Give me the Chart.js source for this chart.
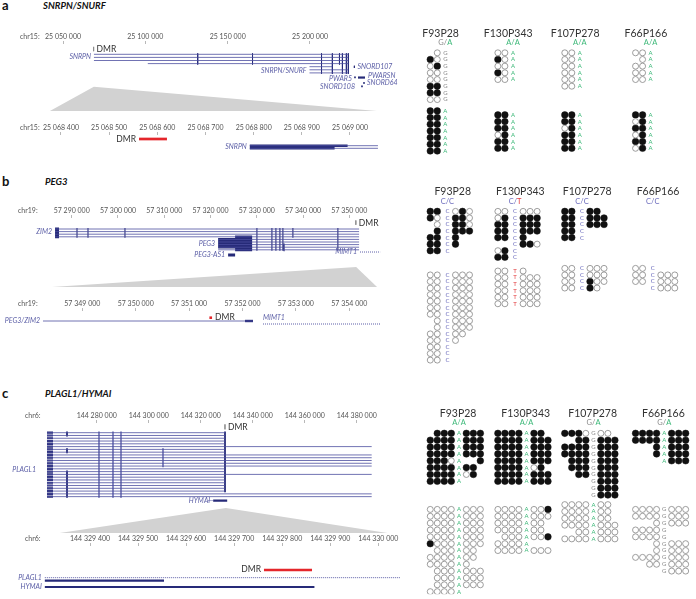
<!DOCTYPE html>
<html><head><meta charset="utf-8">
<script src="https://cdn.jsdelivr.net/npm/chart.js@4.4.1/dist/chart.umd.min.js"></script>
<style>
html,body{margin:0;padding:0;background:#fff;}
#root{position:relative;width:696px;height:599px;overflow:hidden;font-family:Lato,'Open Sans',sans-serif;}
canvas{position:absolute;}
.hd{position:absolute;white-space:nowrap;color:#111;}
</style></head><body><div id="root">
<div class="hd" style="left:2px;top:-3px;font:bold 13px Lato">a</div>
<div class="hd" style="left:43px;top:0px;font:italic bold 9.5px Lato">SNRPN/SNURF</div>
<div class="hd" style="left:2px;top:173px;font:bold 13px Lato">b</div>
<div class="hd" style="left:45px;top:176px;font:italic bold 9.5px Lato">PEG3</div>
<div class="hd" style="left:2px;top:385px;font:bold 13px Lato">c</div>
<div class="hd" style="left:45px;top:388px;font:italic bold 9.5px Lato">PLAGL1/HYMAI</div>
</div>
<script>
// ================= DATA =================
// genomic axis ticks
const aTopTicks  = [25050000, 25100000, 25150000, 25200000];
const aZoomTicks = [25068400, 25068500, 25068600, 25068700, 25068800, 25068900, 25069000];
const bTopTicks  = [57290000, 57300000, 57310000, 57320000, 57330000, 57340000, 57350000];
const bZoomTicks = [57349000, 57350000, 57351000, 57352000, 57353000, 57354000];
const cTopTicks  = [144280000, 144300000, 144320000, 144340000, 144360000, 144380000];
const cZoomTicks = [144329400, 144329500, 144329600, 144329700, 144329800, 144329900, 144330000];

// ---- panel a: SNRPN/SNURF  (segments: [start, end, track row]) ----
const aTopIntrons = [[25068790,25223300,0],[25068790,25223300,1],[25068790,25223300,2],[25101500,25223300,3],
                     [25199700,25213600,4],[25199700,25223300,5],[25199700,25223300,6]];
const aTopExons   = [[25229150,25233400,7.5]];
const aTopMarks   = [[25131800,-0.3,3.3],[25165100,-0.3,3.3],[25207000,-0.3,6.3],[25213600,-0.3,6.3],[25217900,-0.3,3.3],
                     [25219700,-0.3,6.3],[25222100,-0.3,6.3],[25223300,-0.3,6.3],[25226960,3.7,4.4],[25227330,7.2,7.7],
                     [25231580,10.1,10.6],[25232800,9.0,9.5]];
const aTopLabels  = [['SNRPN',25068790,0.9,'right'],['SNRPN/SNURF',25199700,5.4,'right'],['SNORD107',25226960,4.0,'left'],
                     ['PWARSN',25233400,7.0,'left'],['PWAR5',25227330,8.0,'right'],['SNORD108',25229150,10.5,'right'],['SNORD64',25232800,9.3,'left']];
const aTopDMR     = 25068590;
const aZoomRange  = [25068377, 25069056];
const aZoomDMR    = [25068562, 25068620];
const aZoomIntrons= [[25068792,25069058,2.23],[25068792,25069058,3.1]];
const aZoomExons  = [[25068792,25068995,2.23],[25068792,25068968,3.1]];
const aZoomLabels = [['SNRPN',25068792,2.7,'right']];

// ---- panel b: PEG3 ----
const bTopIntrons = [[57286400,57352100,0],[57286400,57352100,1],[57286400,57352100,2],[57286400,57352100,3],
                     [57321640,57352100,4],[57321640,57352100,5],[57321640,57352100,6],[57321640,57352100,7],[57321640,57352100,8]];
const bTopExons   = [[57286400,57287260,0],[57286400,57287260,1],[57286400,57287260,2],[57286400,57287260,3],
                     [57321640,57325310,4],[57321640,57325310,5],[57321640,57325310,6],[57321640,57325310,7],
                     [57325310,57328990,3],[57325310,57328990,4],[57325310,57328990,5],[57325310,57328990,6],[57325310,57328990,7],[57325310,57328990,8],
                     [57323800,57325310,10]];
const bTopMarks   = [[57291145,-0.4,3.4],[57293520,-0.4,3.4],[57301510,-0.4,3.4],[57330025,-0.4,8.4],[57333265,-0.4,8.4],
                     [57334130,-0.4,8.4],[57334990,-0.4,8.4],[57335640,-0.4,8.4],[57337800,-0.4,3.4],[57347520,-0.4,8.4],[57335900,5.6,8.6]];
const bTopDotted  = [[57352300,57356650,8.85]];
const bTopLabels  = [['ZIM2',57286400,1.2,'right'],['PEG3',57321640,5.8,'right'],['PEG3-AS1',57323800,10,'right'],['MIMT1',57352300,8.85,'right']];
const bTopDMR     = 57351400;
const bZoomRange  = [57348432, 57354520];
const bZoomDMR    = [57351380, 57351430];
const bZoomIntrons= [[57348264,57352197,1.1]];
const bZoomExons  = [[57352047,57352197,1.1]];
const bZoomDotted = [[57352384,57354575,2.1]];
const bZoomLabels = [['PEG3/ZIM2',57348264,1.1,'right'],['MIMT1',57352384,0.0,'start']];

// ---- panel c: PLAGL1/HYMAI ----
const cPlagl1Start = 144260885;
const cPlagl1Ends  = [144329345,144329345,144329345,144329345,144329345,144385760,144329345,144329345,
                      144385760,144385760,144385760,144385760,144385760,144329345,144329345,144385760,
                      144329345,144329345,144329345,144329345,144329345,144329345,144385760,144385760];
const cTopExons    = [[144324800,144330190,24.4]];
const cTopBlock    = [144260885,144263190];
const cTopExonMarks= [[144268580,-0.4,1.4],[144268580,5.6,7.4],[144268580,13.6,23.4],[144329345,-0.4,21.4]];
const cTopThinMarks= [[144280885,-0.4,23.4],[144286270,-0.4,23.4],[144289350,-0.4,23.4],[144305500,5.6,12.4]];
const cTopDotted   = [[144323000,144324800,24.4]];
const cTopLabels   = [['PLAGL1',144260885,13.4,'far'],['HYMAI',144324800,24.4,'right']];
const cTopDMR      = 144329340;
const cZoomRange   = [144329337, 144330019];
const cZoomDMR     = [144329762, 144329862];
const cZoomDotted  = [[144329306,144330046,2.2]];
const cZoomExons   = [[144329306,144329554,3.06],[144329306,144329867,4.86]];
const cZoomLabels  = [['PLAGL1',144329306,2.2,'right'],['HYMAI',144329306,4.86,'right']];

// ---- bisulfite clones: '1' methylated, '0' unmethylated, '-' none; 'left|right' of the SNP ----
const samples = ['F93P28','F130P343','F107P278','F66P166'];
const aGenotypes = [['G','A'],['A','A'],['A','A'],['A','A']];
const aAlleles   = [['G','A'],['A','A'],['A','A'],['A','A']];
const aF93P28   = [["-0","10","01","00","00","11","11","00"], ["11","11","11","11","11","11","11"]];
const aF130P343 = [["00","10","00","10","00"], ["11","11","11","01","11","11"]];
const aF107P278 = [["00","00","00","00","00","00"], ["11","11","01","11","11","11"]];
const aF66P166  = [["00","-0","00","00","00"], ["11","01","11","01","11","01"]];

const bGenotypes = [['C','C'],['C','T'],['C','C'],['C','C']];
const bAlleles   = [['C','C'],['C','T'],['C','C'],['C','C']];
const bF93P28   = [["11|010","10|110","-0|110","-1|111","11|1--","11|1--","11|---"],
                   ["00|000","00|000","00|000","00|000","00|000","00|000","00|000","-0|000","-0|000","00|00-","00|0--","00|---","00|---","00|---"]];
const bF130P343 = [["00|000","01|111","11|111","11|111","11|1--","--|110","01|---","11|---"],
                   ["00|0--","00|000","00|000","00|000","00|000","00|000"]];
const bF107P278 = [["11|11-","11|111","11|111","11|---","11|---"],
                   ["00|000","00|000","00|100","00|10-"]];
const bF66P166  = [[], ["00|---","00|000","00|000","--|000"]];

const cGenotypes = [['A','A'],['A','A'],['G','A'],['G','A']];
const cAlleles   = [['A','A'],['A','A'],['G','A'],['A','G']];
const cF93P28   = [["-111|111","1111|111","1111|111","1111|111","1110|--1","1111|11-","1111|01-","1111|---"],
                   ["0000|000","0000|000","0000|000","0000|000","0000|000","1000|000","-000|00-","0000|00-","0000|0--",
                    "-000|000","-000|000","-000|000","0000|---"]];
const cF130P343 = [["1111|11-","1111|111","1111|111","1111|111","1111|111","1111|01-","1111|111","1111|111"],
                   ["0000|001","0000|000","0000|00-","0000|00-","-000|001","0000|---","0000|000"]];
const cF107P278 = [["1110|00-","--11|111","1111|111","1111|111","-111|111","-111|111","--11|111","----|111","----|111","----|111"],
                   ["0000|00-","0000|00-","0000|00-","0000|000","--00|000","0000|000"]];
const cF66P166  = [["1111|111","1111|111","---1|111","---1|111","----|111"],
                   ["0000|000","0000|000","---0|000","0000|---","0000|---","---0|000","---0|000","0000|000","--00|000","----|000"]];

// ================= STYLE / LAYOUT =================
const NAVY = '#262a78', THIN = '#4c4f9f', GENE = '#5b5ea6', RED = '#e4262b', TRI = '#d2d2d2';
const ALLELE_COL = {A:'#3cb878', G:'#8a8a8a', C:'#6b6bbd', T:'#e23b3d'};
Chart.defaults.font.family = "Lato, 'Open Sans', sans-serif";
Chart.defaults.animation = false;
Chart.defaults.responsive = false;
Chart.defaults.devicePixelRatio = 1;
Chart.defaults.events = [];
Chart.defaults.plugins.legend.display = false;
Chart.defaults.plugins.tooltip.enabled = false;

const root = document.getElementById('root');
function makeCanvas(left, top, w, h) {
  const c = document.createElement('canvas');
  c.width = w; c.height = h;
  c.style.left = left + 'px'; c.style.top = top + 'px';
  c.style.width = w + 'px'; c.style.height = h + 'px';
  root.appendChild(c);
  return c;
}
const fmt = v => String(Math.round(v)).replace(/\B(?=(\d{3})+(?!\d))/g, ' ');

function genomicTrack(o) {
  const L = o.lay, W = 400, H = L.bottom - L.top;
  const cv = makeCanvas(0, L.top, W, H);
  const yMin = (L.chartTop - L.rowY0) / L.pitch, yMax = (L.bottom - L.rowY0) / L.pitch;
  const ds = [];
  const line = (segs, color, width, dash, vertical) => {
    if (!segs || !segs.length) return;
    const data = [];
    segs.forEach(s => {
      if (vertical) data.push({x: s[0], y: s[1]}, {x: s[0], y: s[2]});
      else data.push({x: s[0], y: s[2]}, {x: s[1], y: s[2]});
      data.push({x: s[0], y: null});
    });
    ds.push({type: 'line', data, borderColor: color, borderWidth: width, borderDash: dash || [],
             pointRadius: 0, fill: false, tension: 0, spanGaps: false, borderCapStyle: 'butt'});
  };
  line(o.introns, THIN, 0.8);
  line(o.dotted, THIN, 0.9, [1, 1]);
  line(o.thinMarks, THIN, 0.6, null, true);
  line(o.exons, NAVY, o.exonW || 2.5);
  line(o.marks, NAVY, o.markW || 0.9, null, true);
  line(o.exonMarks, NAVY, 1.8, null, true);
  if (o.dmrTick != null) line([[o.dmrTick, o.dmrTickRows[0], o.dmrTickRows[1]]], '#8a8a8a', 0.8, null, true);
  if (o.red) line([[o.red[0], o.red[1], 0]], RED, o.redW || 2.7);

  const plugin = {
    id: 'track',
    beforeDatasetsDraw(chart) {
      const t = o.triangle; if (!t) return;
      const xs = chart.scales.x, ys = chart.scales.y, zx = t.zoomChart.scales.x;
      const ctx = chart.ctx;
      ctx.save();
      ctx.fillStyle = TRI;
      ctx.beginPath();
      ctx.moveTo(xs.getPixelForValue((t.range[0] + t.range[1]) / 2), ys.getPixelForValue(t.apexRow));
      ctx.lineTo(zx.getPixelForValue(t.range[1]), ys.getPixelForValue(t.baseRow));
      ctx.lineTo(zx.getPixelForValue(t.range[0]), ys.getPixelForValue(t.baseRow));
      ctx.closePath(); ctx.fill();
      ctx.restore();
    },
    afterDatasetsDraw(chart) {
      const xs = chart.scales.x, ys = chart.scales.y, ctx = chart.ctx;
      ctx.save();
      ctx.textBaseline = 'middle';
      ctx.font = 'italic 7px Lato';
      ctx.fillStyle = GENE;
      (o.labels || []).forEach(l => {
        const px = xs.getPixelForValue(l[1]);
        let x = px, al = 'left';
        if (l[3] === 'right') { x = px - 3; al = 'right'; }
        else if (l[3] === 'far') { x = px - 11; al = 'right'; }
        else if (l[3] === 'left') { x = px + 3; }
        ctx.textAlign = al;
        ctx.fillText(l[0], x, ys.getPixelForValue(l[2]));
      });
      if (o.dmrLabel) {
        const d = o.dmrLabel;
        ctx.font = '8.5px Lato'; ctx.fillStyle = '#333';
        ctx.textAlign = d.side === 'left' ? 'right' : 'left';
        const px = xs.getPixelForValue(d.pos) + (d.side === 'left' ? -3 : 3);
        ctx.fillText('DMR', px, ys.getPixelForValue(d.row));
      }
      ctx.font = '7px Lato'; ctx.fillStyle = '#555'; ctx.textAlign = 'left';
      ctx.fillText(o.chr, L.chrX, chart.chartArea.top - 7.2);
      ctx.restore();
    }
  };

  return new Chart(cv, {
    type: 'line',
    data: {datasets: ds},
    options: {
      layout: {padding: 0},
      scales: {
        x: {type: 'linear', position: 'top', min: o.min, max: o.max,
            afterBuildTicks: s => { s.ticks = o.ticks.map(v => ({value: v})); },
            afterFit: s => { s.height = L.chartTop - L.top; },
            ticks: {font: {size: 7}, color: '#555', padding: 0, maxRotation: 0, autoSkip: false, callback: v => fmt(v)},
            grid: {drawOnChartArea: false, tickLength: 3, color: '#999', lineWidth: 0.7},
            border: {display: false}},
        y: {type: 'linear', display: false, min: yMin, max: yMax, reverse: true}
      }
    },
    plugins: [plugin]
  });
}

const SAMPLE_START = [0, 9.65, 19.2, 29.3];
const COL_PITCH = 7.25, COL_X0 = 426;

function dotPanel(o) {
  const L = o.lay;
  const cv = makeCanvas(410, L.top, 286, L.height);
  const filled = [], open = [], letters = [], heads = [];
  o.blocks.forEach((pair, si) => {
    const x0 = SAMPLE_START[si];
    let nLeft = 2, nRight = 0;
    pair.forEach((rows, bi) => {
      const y0 = bi === 0 ? 0 : L.lowerStart[si];
      rows.forEach((row, ri) => {
        const parts = row.split('|');
        const left = parts[0], right = parts[1] || '';
        nLeft = left.length; nRight = right.length;
        const y = y0 + ri;
        const put = (ch, x) => { if (ch === '1') filled.push({x, y}); else if (ch === '0') open.push({x, y}); };
        [...left].forEach((ch, ci) => put(ch, x0 + ci));
        [...right].forEach((ch, ci) => put(ch, x0 + left.length + L.rightOff + ci));
        letters.push({x: x0 + left.length + L.letterOff, y, a: o.alleles[si][bi]});
      });
    });
    const blockEnd = nRight ? nLeft + L.rightOff + nRight - 1 : nLeft + L.letterOff;
    heads.push({name: samples[si], cx: x0 + blockEnd / 2 + 0.4, gx: x0 + nLeft + L.letterOff, g: o.genotypes[si]});
  });
  const plugin = {
    id: 'dots',
    afterDatasetsDraw(chart) {
      const xs = chart.scales.x, ys = chart.scales.y, ctx = chart.ctx;
      ctx.save();
      ctx.textBaseline = 'middle'; ctx.textAlign = 'center';
      ctx.font = '6px Lato';
      letters.forEach(l => { ctx.fillStyle = ALLELE_COL[l.a]; ctx.fillText(l.a, xs.getPixelForValue(l.x), ys.getPixelForValue(l.y)); });
      heads.forEach(h => {
        ctx.font = '10.5px Lato'; ctx.fillStyle = '#333'; ctx.textAlign = 'center';
        ctx.fillText(h.name, xs.getPixelForValue(h.cx), ys.getPixelForValue(-2.95));
        ctx.font = '7.5px Lato';
        const s1 = h.g[0] + '/', s2 = h.g[1];
        const w1 = ctx.measureText(s1).width, w2 = ctx.measureText(s2).width;
        let x = xs.getPixelForValue(h.gx) - (w1 + w2) / 2;
        const y = ys.getPixelForValue(-1.5);
        ctx.textAlign = 'left';
        ctx.fillStyle = ALLELE_COL[h.g[0]]; ctx.fillText(s1, x, y);
        ctx.fillStyle = ALLELE_COL[h.g[1]]; ctx.fillText(s2, x + w1, y);
      });
      ctx.restore();
    }
  };
  return new Chart(cv, {
    type: 'scatter',
    data: {datasets: [
      {data: open, pointRadius: 3.0, pointBackgroundColor: '#fff', pointBorderColor: '#858585', pointBorderWidth: 0.8},
      {data: filled, pointRadius: 3.3, pointBackgroundColor: '#111', pointBorderColor: '#111', pointBorderWidth: 0.5}
    ]},
    options: {
      layout: {padding: 0},
      scales: {
        x: {type: 'linear', display: false, min: (410 - COL_X0) / COL_PITCH, max: (696 - COL_X0) / COL_PITCH},
        y: {type: 'linear', display: false, reverse: true,
            min: (L.top - L.rowY0) / L.pitch, max: (L.top + L.height - L.rowY0) / L.pitch}
      }
    },
    plugins: [plugin]
  });
}

// ================= BUILD =================
// panel a
const aZoom = genomicTrack({lay: {top: 121, bottom: 156, chartTop: 135, rowY0: 139, pitch: 3, chrX: 20},
  min: 25068273.4, max: 25069103.8, ticks: aZoomTicks, chr: 'chr15:',
  introns: aZoomIntrons, exons: aZoomExons, exonW: 2.4, red: aZoomDMR, labels: aZoomLabels,
  dmrLabel: {pos: aZoomDMR[0], row: 0, side: 'left'}});
genomicTrack({lay: {top: 30, bottom: 115, chartTop: 44, rowY0: 54.3, pitch: 3.1, chrX: 20},
  min: 25011740, max: 25254660, ticks: aTopTicks, chr: 'chr15:',
  introns: aTopIntrons, exons: aTopExons, exonW: 2.2, marks: aTopMarks, labels: aTopLabels,
  dmrTick: aTopDMR, dmrTickRows: [-2.4, -1.0], dmrLabel: {pos: aTopDMR, row: -1.7, side: 'right'},
  triangle: {zoomChart: aZoom, range: aZoomRange, apexRow: 10.5, baseRow: 18.3}});

// panel b
const bZoom = genomicTrack({lay: {top: 297, bottom: 330, chartTop: 311, rowY0: 317.7, pitch: 3, chrX: 18},
  min: 57347458.8, max: 57354949.6, ticks: bZoomTicks, chr: 'chr19:',
  introns: bZoomIntrons, exons: bZoomExons, exonW: 2.4, dotted: bZoomDotted, red: bZoomDMR, redW: 2.6,
  labels: bZoomLabels, dmrLabel: {pos: bZoomDMR[1], row: 0, side: 'right'}});
genomicTrack({lay: {top: 204, bottom: 290, chartTop: 218, rowY0: 229, pitch: 2.6, chrX: 18},
  min: 57274505, max: 57360945, ticks: bTopTicks, chr: 'chr19:',
  introns: bTopIntrons, exons: bTopExons, exonW: 2.8, marks: bTopMarks, markW: 1.1, dotted: bTopDotted, labels: bTopLabels,
  dmrTick: bTopDMR, dmrTickRows: [-3.3, -1.6], dmrLabel: {pos: bTopDMR, row: -2.3, side: 'right'},
  triangle: {zoomChart: bZoom, range: bZoomRange, apexRow: 14.6, baseRow: 22.3}});

// panel c
const cTopIntrons = cPlagl1Ends.map((e, r) => [cPlagl1Start, e, r]);
const cTopAllExons = cTopExons.concat(cPlagl1Ends.map((e, r) => [cTopBlock[0], cTopBlock[1], r]));
const cZoom = genomicTrack({lay: {top: 532, bottom: 596, chartTop: 546, rowY0: 570, pitch: 3.5, chrX: 25},
  min: 144329212.7, max: 144330045.1, ticks: cZoomTicks, chr: 'chr6:',
  dotted: cZoomDotted, exons: cZoomExons, exonW: 2.2, red: cZoomDMR, labels: cZoomLabels,
  dmrLabel: {pos: cZoomDMR[0], row: -0.1, side: 'left'}});
genomicTrack({lay: {top: 409, bottom: 536, chartTop: 423, rowY0: 432.7, pitch: 2.78, chrX: 25},
  min: 144242809, max: 144396655, ticks: cTopTicks, chr: 'chr6:',
  introns: cTopIntrons, exons: cTopAllExons, exonW: 2.2, exonMarks: cTopExonMarks, thinMarks: cTopThinMarks,
  dotted: cTopDotted, labels: cTopLabels,
  dmrTick: cTopDMR, dmrTickRows: [-3.0, -1.2], dmrLabel: {pos: cTopDMR, row: -2.05, side: 'right'},
  triangle: {zoomChart: cZoom, range: cZoomRange, apexRow: 27.1, baseRow: 36.1}});

// dot plots
dotPanel({lay: {top: 20, height: 145, rowY0: 50, pitch: 7.15, letterOff: 0.15, rightOff: 1.2, lowerStart: [8.7, 9.3, 9.3, 9.3]},
  blocks: [aF93P28, aF130P343, aF107P278, aF66P166], alleles: aAlleles, genotypes: aGenotypes});
dotPanel({lay: {top: 180, height: 190, rowY0: 208, pitch: 6.9, letterOff: 0.45, rightOff: 1.6, lowerStart: [9.7, 9.1, 8.7, 8.7]},
  blocks: [bF93P28, bF130P343, bF107P278, bF66P166], alleles: bAlleles, genotypes: bGenotypes});
dotPanel({lay: {top: 400, height: 199, rowY0: 430, pitch: 7.2, letterOff: 0.1, rightOff: 1.15, lowerStart: [11.1, 11.1, 10.4, 11.1]},
  blocks: [cF93P28, cF130P343, cF107P278, cF66P166], alleles: cAlleles, genotypes: cGenotypes});
</script>
</body></html>
